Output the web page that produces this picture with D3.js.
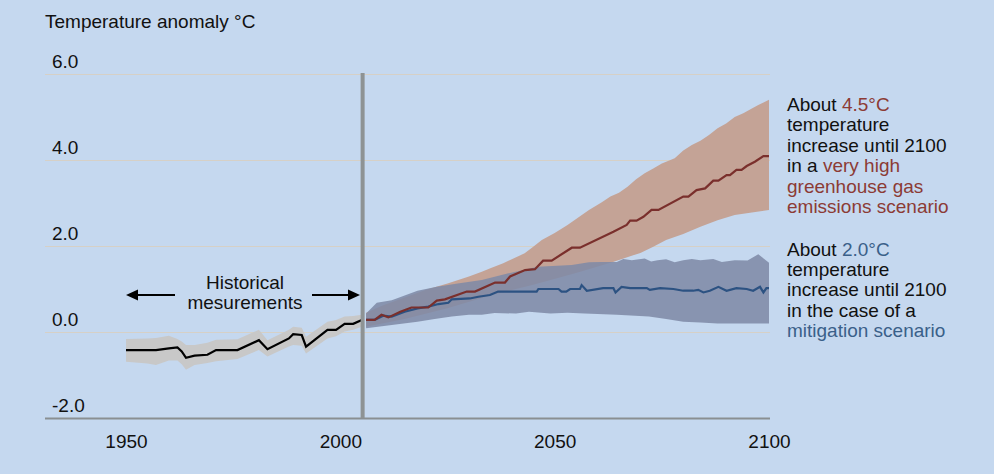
<!DOCTYPE html>
<html>
<head>
<meta charset="utf-8">
<script src="https://cdn.jsdelivr.net/npm/d3@7"></script>
<style>
  html, body { margin: 0; padding: 0; background: #c5d8ef; }
  svg { display: block; font-family: "Liberation Sans", Arial, sans-serif; }
</style>
</head>
<body>
<svg width="994" height="474"></svg>
<script>
// historical measurements (year, mean, low, high)
const histYears = [1950, 1955, 1957, 1960, 1962, 1963, 1964, 1966, 1969, 1971, 1976, 1981, 1983, 1988, 1989, 1991, 1992, 1997, 1999, 2001, 2003, 2005];
const histMean  = [-0.42, -0.42, -0.42, -0.38, -0.36, -0.45, -0.60, -0.55, -0.53, -0.42, -0.42, -0.19, -0.40, -0.15, -0.05, -0.07, -0.34, 0.05, 0.05, 0.19, 0.19, 0.28];
const histLow   = [-0.69, -0.73, -0.77, -0.66, -0.66, -0.75, -0.88, -0.77, -0.72, -0.68, -0.63, -0.42, -0.57, -0.34, -0.30, -0.32, -0.50, -0.15, -0.10, 0.01, 0.05, 0.12];
const histHigh  = [-0.16, -0.15, -0.14, -0.09, -0.16, -0.22, -0.30, -0.30, -0.25, -0.18, -0.17, 0.05, -0.19, 0.05, 0.12, 0.10, -0.11, 0.24, 0.28, 0.36, 0.37, 0.40];

const splitYear = 2005.2;

// very high emissions scenario
const highMean = [[2006,0.28],[2008,0.28],[2009.6,0.40],[2011.2,0.34],[2014,0.47],[2016.6,0.57],[2020.5,0.57],[2022.5,0.73],[2024.4,0.76],[2029.5,0.94],[2031.4,0.94],[2036.1,1.15],[2038.4,1.15],[2039.6,1.29],[2043.1,1.44],[2045.4,1.46],[2047.3,1.66],[2049.3,1.66],[2054,1.96],[2055.9,1.96],[2063.7,2.33],[2066.8,2.49],[2067.6,2.59],[2069.1,2.59],[2070.7,2.68],[2072.6,2.84],[2074.2,2.84],[2080,3.15],[2081.2,3.15],[2083.1,3.30],[2085.1,3.34],[2087,3.52],[2088.2,3.52],[2090.1,3.65],[2090.9,3.65],[2092.4,3.77],[2093.6,3.77],[2094.8,3.86],[2096.7,3.96],[2098.7,4.09],[2100,4.09]];
const highUpper = [[2006,0.45],[2010,0.62],[2015,0.80],[2020,0.98],[2025,1.13],[2030,1.29],[2033,1.40],[2035,1.48],[2038,1.60],[2041,1.74],[2043,1.83],[2045,1.98],[2047,2.14],[2050,2.30],[2053,2.49],[2056,2.70],[2058,2.84],[2061,3.02],[2063,3.15],[2065,3.24],[2067,3.38],[2069,3.55],[2071,3.69],[2073,3.80],[2075,3.92],[2078,4.04],[2080,4.22],[2082,4.35],[2084,4.45],[2086,4.58],[2088,4.74],[2090,4.85],[2092,5.00],[2094,5.09],[2096,5.20],[2097.5,5.28],[2100,5.40]];
const highLower = [[2006,0.12],[2015,0.30],[2025,0.55],[2035,0.85],[2045,1.10],[2051,1.26],[2056,1.40],[2063.6,1.63],[2070,1.84],[2073,1.98],[2076,2.14],[2080,2.28],[2084,2.45],[2088,2.60],[2092,2.72],[2096,2.78],[2100,2.84]];

// mitigation scenario
const lowMean = [[2006,0.28],[2008,0.28],[2010,0.38],[2012,0.36],[2015,0.47],[2018,0.55],[2020.5,0.59],[2022.9,0.65],[2025.2,0.68],[2026,0.76],[2030.2,0.78],[2032.2,0.82],[2034.9,0.86],[2036.8,0.94],[2045.8,0.94],[2046.2,1.00],[2050.9,1.00],[2051.6,0.94],[2052.7,0.94],[2053.6,1.00],[2055.9,1.00],[2056.3,1.09],[2057.5,0.96],[2061.3,1.02],[2063.7,1.02],[2064.2,0.92],[2065.6,1.05],[2067.6,1.02],[2071.5,1.02],[2072.2,0.98],[2074.6,1.02],[2077.7,1.00],[2080,0.96],[2082.3,0.96],[2083.5,0.98],[2084.7,0.92],[2086.2,0.96],[2088.2,1.05],[2090.1,0.96],[2092.4,1.02],[2094.8,1.00],[2096.3,0.96],[2097.9,1.05],[2098.7,0.92],[2099.4,1.02],[2100,1.02]];
const lowUpper = [[2006,0.43],[2008.5,0.68],[2012,0.74],[2018,0.96],[2022.5,1.05],[2027,1.12],[2033,1.21],[2039,1.36],[2046,1.52],[2054,1.56],[2058,1.62],[2061,1.63],[2064.5,1.63],[2066,1.70],[2068,1.67],[2071,1.71],[2072.5,1.64],[2074,1.67],[2076,1.69],[2078,1.62],[2080,1.67],[2082,1.70],[2084,1.67],[2087,1.70],[2089,1.63],[2092,1.67],[2095,1.66],[2097.5,1.81],[2100,1.61]];
const lowLower = [[2006,0.09],[2012,0.16],[2018,0.24],[2022,0.30],[2026,0.36],[2030,0.40],[2033,0.40],[2036,0.44],[2041,0.43],[2044,0.47],[2049,0.43],[2053,0.45],[2057,0.43],[2064.5,0.40],[2072,0.36],[2076,0.30],[2080,0.24],[2084,0.22],[2088,0.20],[2094,0.20],[2100,0.20]];

const yTicks = [-2, 0, 2, 4, 6];
const xTicks = [1950, 2000, 2050, 2100];

const svg = d3.select('svg');

const x = d3.scaleLinear().domain([1950, 2100]).range([126, 769]);
const y = d3.scaleLinear().domain([-2, 6]).range([418, 74]);

// title
svg.append('text')
    .attr('x', 45).attr('y', 28)
    .style('font-size', '19px')
    .attr('fill', '#111')
    .text('Temperature anomaly °C');

// gridlines + y labels
const yAxis = svg.append('g')
    .attr('transform', 'translate(45,0)')
    .call(d3.axisRight(y).tickValues(yTicks).tickSize(725).tickFormat(d => d.toFixed(1)));
yAxis.select('.domain').remove();
yAxis.selectAll('line')
    .attr('stroke', d => d === -2 ? '#8a8f92' : '#d6d0c6')
    .attr('stroke-width', d => d === -2 ? 2 : 1.2);
yAxis.selectAll('text')
    .attr('x', 7).attr('dy', -7)
    .attr('fill', '#111')
    .style('font-size', '19px')
    .style('font-family', '"Liberation Sans", Arial, sans-serif');

// x labels
const xAxis = svg.append('g')
    .attr('transform', `translate(0,${y(-2)})`)
    .call(d3.axisBottom(x).tickValues(xTicks).tickSize(0).tickFormat(d3.format('d')));
xAxis.select('.domain').remove();
xAxis.selectAll('text')
    .attr('y', 30).attr('dy', 0)
    .attr('fill', '#111')
    .style('font-size', '19px')
    .style('font-family', '"Liberation Sans", Arial, sans-serif');

// historical band + line
const hist = histYears.map((yr, i) => ({yr, m: histMean[i], lo: histLow[i], hi: histHigh[i]}));

svg.append('path')
    .datum(hist)
    .attr('fill', '#c8c8c8')
    .attr('d', d3.area().x(d => x(d.yr)).y0(d => y(d.lo)).y1(d => y(d.hi)));

// scenario bands: upper edge forward, lower edge back
const line = d3.line().x(d => x(d[0])).y(d => y(d[1]));
function band(upper, lower) {
    return line(upper) + 'L' + line(lower.slice().reverse()).slice(1) + 'Z';
}

svg.append('path')
    .attr('d', band(highUpper, highLower))
    .attr('fill', '#c4a396');

svg.append('path')
    .attr('d', band(lowUpper, lowLower))
    .attr('fill', '#7e8aa7')
    .attr('fill-opacity', 0.87);

svg.append('path')
    .datum(lowMean)
    .attr('d', line)
    .attr('fill', 'none')
    .attr('stroke', '#2c5282')
    .attr('stroke-width', 2.2);

svg.append('path')
    .datum(highMean)
    .attr('d', line)
    .attr('fill', 'none')
    .attr('stroke', '#7a2f2c')
    .attr('stroke-width', 2.2);

svg.append('path')
    .datum(hist)
    .attr('d', d3.line().x(d => x(d.yr)).y(d => y(d.m)))
    .attr('fill', 'none')
    .attr('stroke', '#000')
    .attr('stroke-width', 2.2);

// separator
svg.append('line')
    .attr('x1', x(splitYear)).attr('x2', x(splitYear))
    .attr('y1', y(6) - 1).attr('y2', y(-2))
    .attr('stroke', '#8e9394')
    .attr('stroke-width', 4);

// historical label with arrows
function arrow(x1, x2, yy) {
    const dir = x2 > x1 ? 1 : -1;
    svg.append('line')
        .attr('x1', x1).attr('x2', x2 - dir * 8).attr('y1', yy).attr('y2', yy)
        .attr('stroke', '#000').attr('stroke-width', 2);
    svg.append('path')
        .attr('d', `M${x2},${yy}L${x2 - dir * 12},${yy - 5.5}L${x2 - dir * 12},${yy + 5.5}Z`)
        .attr('fill', '#000');
}
arrow(175, 126, 295);
arrow(312, 360, 295);

const histLabel = svg.append('text')
    .attr('text-anchor', 'middle')
    .style('font-size', '19px')
    .attr('fill', '#111');
histLabel.append('tspan').attr('x', 245).attr('y', 289).text('Historical');
histLabel.append('tspan').attr('x', 245).attr('y', 309).text('mesurements');

// annotations
const red = '#8c3b35', blue = '#3a6089';
const noteHigh = [
    [['About ', '#111'], ['4.5°C', red]],
    [['temperature', '#111']],
    [['increase until 2100', '#111']],
    [['in a ', '#111'], ['very high', red]],
    [['greenhouse gas', red]],
    [['emissions scenario', red]]
];
const noteLow = [
    [['About ', '#111'], ['2.0°C', blue]],
    [['temperature', '#111']],
    [['increase until 2100', '#111']],
    [['in the case of a', '#111']],
    [['mitigation scenario', blue]]
];

function note(lines, y0) {
    const t = svg.append('text').style('font-size', '19px');
    lines.forEach((parts, i) => {
        parts.forEach((p, j) => {
            const ts = t.append('tspan').attr('fill', p[1]).text(p[0]);
            if (j === 0) ts.attr('x', 787).attr('y', y0 + i * 20.4);
        });
    });
}
note(noteHigh, 111);
note(noteLow, 255.5);
</script>
</body>
</html>
